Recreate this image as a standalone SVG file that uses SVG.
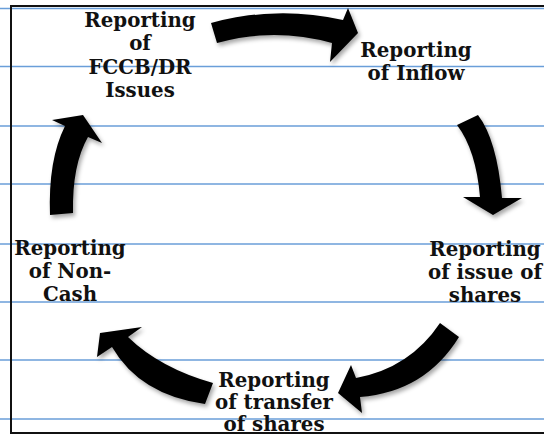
<svg xmlns="http://www.w3.org/2000/svg" width="544" height="435" viewBox="0 0 544 435">
<defs>
<style>
.rule{stroke:#6a9ed9;stroke-width:1.5}
.lbl{font-family:"DejaVu Serif","Liberation Serif",serif;font-weight:bold;font-size:19.8px;fill:#111;text-anchor:middle}
.arr{fill:#000;filter:url(#sh)}
</style>
<filter id="sh" x="-20%" y="-20%" width="140%" height="140%">
<feDropShadow dx="2" dy="3" stdDeviation="2" flood-color="#000" flood-opacity="0.35"/>
</filter>
</defs>
<rect width="544" height="435" fill="#fff"/>
<g id="rules">
<line class="rule" x1="0" y1="8.5" x2="544" y2="8.5"/>
<line class="rule" x1="0" y1="66.5" x2="544" y2="66.5"/>
<line class="rule" x1="0" y1="126" x2="544" y2="126"/>
<line class="rule" x1="0" y1="184" x2="544" y2="184"/>
<line class="rule" x1="0" y1="244" x2="544" y2="244"/>
<line class="rule" x1="0" y1="302" x2="544" y2="302"/>
<line class="rule" x1="0" y1="360" x2="544" y2="360"/>
<line class="rule" x1="0" y1="419" x2="544" y2="419"/>
</g>
<g id="connectors">
<path class="arr" d="M211,23 Q277,5 343,20 L348,8 L358,33 L330,62 L332,43 Q274,27 217,43 Z"/>
<path class="arr" d="M457,125 Q476,150 480,197 L463,197 L493,215 L522,198 L502,198 Q497,140 478,115 Z"/>
<path class="arr" d="M440,323 Q410,368 356,378 L351,365 L338,393 L362,413 L360,397 Q425,392 459,337 Z"/>
<path class="arr" d="M213,383 Q160,368 128,337 L142,327 L100,333 L97,357 L112,347 Q140,395 205,404 Z"/>
<path class="arr" d="M50,215 Q48,160 65,126 L52,120 L83,115 L102,143 L88,137 Q72,165 73,213 Z"/>
</g>
<g id="node-fccb">
<text class="lbl" x="140" y="27">Reporting</text>
<text class="lbl" x="140" y="50">of</text>
<text class="lbl" x="140" y="74">FCCB/DR</text>
<text class="lbl" x="140" y="97">Issues</text>
</g>
<g id="node-inflow">
<text class="lbl" x="416" y="57">Reporting</text>
<text class="lbl" x="416" y="80">of Inflow</text>
</g>
<g id="node-issue">
<text class="lbl" x="485" y="256">Reporting</text>
<text class="lbl" x="485" y="279">of issue of</text>
<text class="lbl" x="485" y="302">shares</text>
</g>
<g id="node-transfer">
<text class="lbl" x="274" y="387">Reporting</text>
<text class="lbl" x="274" y="409">of transfer</text>
<text class="lbl" x="274" y="431">of shares</text>
</g>
<g id="node-noncash">
<text class="lbl" x="70" y="255">Reporting</text>
<text class="lbl" x="70" y="278">of Non-</text>
<text class="lbl" x="70" y="301">Cash</text>
</g>
<g id="frame">
<path d="M546,6 H11 V433 H546" fill="none" stroke="#111" stroke-width="2"/>
</g>
</svg>
